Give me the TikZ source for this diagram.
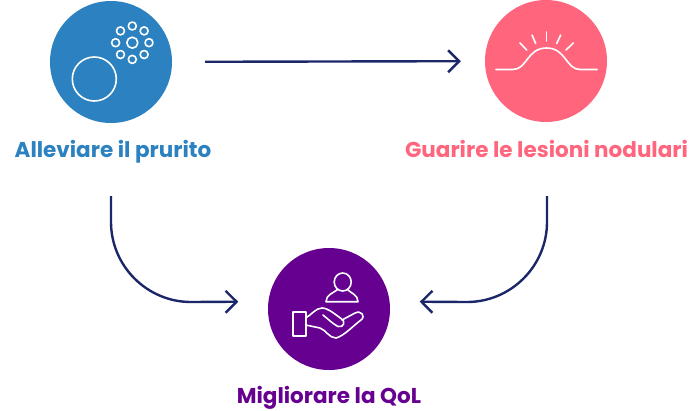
\documentclass[tikz,border=0pt]{standalone}
\usepackage{fontspec}
\setmainfont{Poppins}
\usetikzlibrary{arrows.meta, positioning}
\definecolor{itchblue}{HTML}{2C82C0}
\definecolor{lesionpink}{HTML}{FF667D}
\definecolor{qolpurple}{HTML}{660091}
\definecolor{linknavy}{HTML}{1B2768}
\tikzset{
  goal/.style={circle,inner sep=0pt,minimum size=122pt},
  caption/.style={font=\fontsize{21.5}{25}\selectfont\bfseries,inner sep=0pt,anchor=base},
  link/.style={draw=linknavy,line width=2.4pt,-{Straight Barb[length=11pt,width=22pt,line width=2.4pt]}},
  icon/.style={draw=white,line width=1.6pt,line cap=round,line join=round}
}
\begin{document}
\begin{tikzpicture}[x=1pt,y=-1pt]
    \useasboundingbox (0,0) rectangle (700,410);
    \node (itch)   at (111,62)  [goal,fill=itchblue] {};
    \node (lesion) at (546,61)  [goal,fill=lesionpink] {};
    \node (qol)    at (329,309) [goal,fill=qolpurple] {};
    \node (itchlabel)   at (113,157)   [caption,text=itchblue] {Alleviare il prurito};
    \node (lesionlabel) at (546.5,157) [caption,text=lesionpink] {Guarire le lesioni nodulari};
    \node (qollabel)    at (329,403)   [caption,text=qolpurple] {Migliorare la QoL};
    % arrows
    \draw[link,shorten <=33pt,shorten >=24pt] (itch) -- (lesion);
    \coordinate (itchstart)   at (111,196);
    \coordinate (lesionstart) at (547,196);
    \draw[link,shorten >=30pt] (itchstart) -- (111,222) .. controls (111,266) and (147,302) .. (191,302) -- (qol.173);
    \draw[link,shorten >=30pt] (lesionstart) -- (547,222) .. controls (547,266) and (511,302) .. (467,302) -- (qol.7);
    % itch icon
    \draw[icon] (94.3,79) circle (22);
    \draw[icon] (132.3,42.7) circle (5.5);
    \foreach \ang in {0,45,...,315}
        \draw[icon] (132.3,42.7) ++(\ang:16.7) circle (4);
    % lesion icon
    \draw[icon] (496,69.5) -- (513,69.5) .. controls (527,69.5) and (527,48) .. (546.5,48) .. controls (566,48) and (566,69.5) .. (580,69.5) -- (597,69.5);
    \draw[icon] (546.3,32) -- (546.3,41);
    \draw[icon] (532,35) -- (535.7,43.5);
    \draw[icon] (560.7,35) -- (556.7,43.5);
    \draw[icon] (520,43) -- (526.7,50);
    \draw[icon] (573.3,43) -- (566,50);
    % qol icon
    \draw[icon] (342.7,282) ellipse (8.5 and 9);
    \draw[icon] (337,289) -- (337,290) .. controls (333,293) and (326,295) .. (326,301.7) -- (358,301.7) .. controls (358,295) and (351,293) .. (348,290) -- (348,289);
    \draw[icon] (292.7,311.7) rectangle (305.7,336);
    \draw[icon] (305.7,318) .. controls (311,315) and (316,308) .. (322,308) .. controls (328,308) and (336,315) .. (341,318.5) .. controls (346,321) and (344,328) .. (338,326.5) .. controls (333,324) and (328,319) .. (323,315);
    \draw[icon] (342,320) -- (355,313) .. controls (361,310) and (366,316) .. (361,320) .. controls (354,325) and (344,336) .. (336,338) .. controls (329,338) and (326,330) .. (320,328) -- (305.7,325);
\end{tikzpicture}
\end{document}
